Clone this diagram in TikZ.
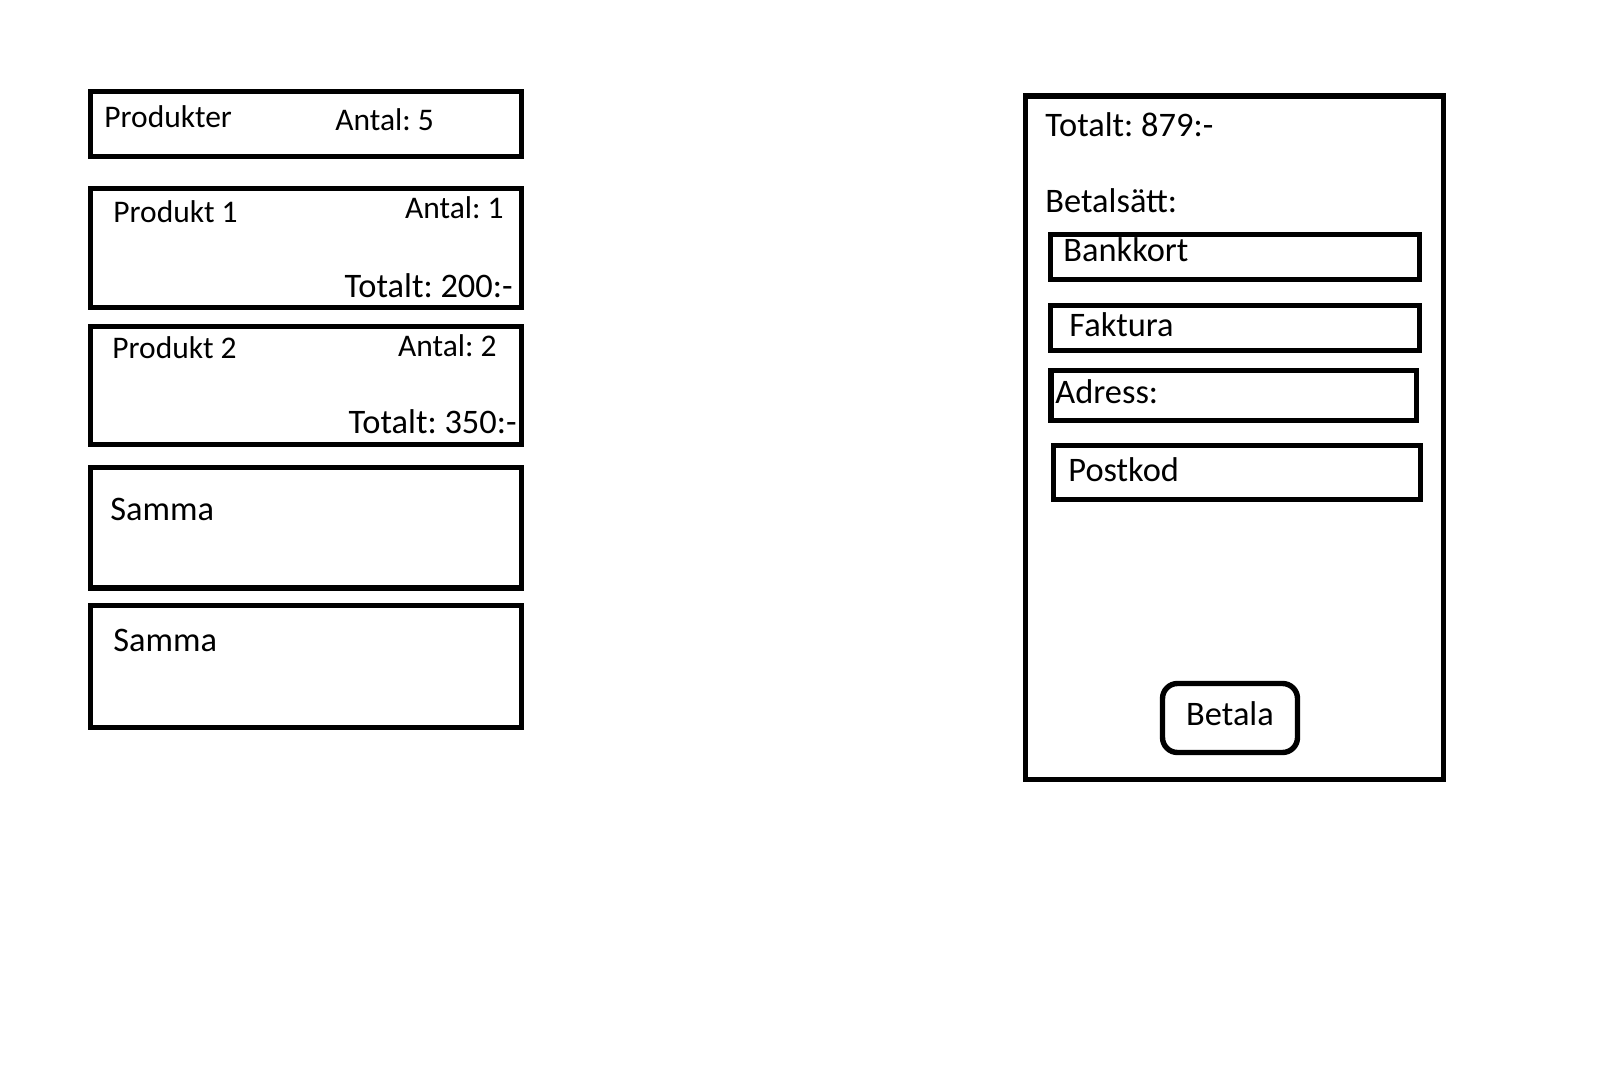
\documentclass[tikz,border=0pt]{standalone}
\usepackage{fontspec}
\setmainfont{Carlito}
\frenchspacing

\begin{document}
\begin{tikzpicture}[
  x=0.5pt, y=-0.5pt,
  box/.style={line width=2.7pt},
  small/.style={inner sep=0pt, font=\fontsize{15.75}{19}\selectfont},
  large/.style={inner sep=0pt, font=\fontsize{17.2}{21}\selectfont},
]
\useasboundingbox (0,0) rectangle (1611,1069);
% product list
\foreach \t/\b in {91.5/156.5, 188.5/307.5, 326.5/444.5, 467.5/588, 605.5/727.5}
  \draw[box] (90.5,\t) rectangle (521.5,\b);
\node[small, anchor=base west] (produkter) at (104,128) {Produkter};
\node[small, anchor=base west] (antal) at (335,131) {Antal: 5};
\node[small, anchor=base west] (prod1) at (113,223) {Produkt 1};
\node[small, anchor=base east] (antal1) at (504,219) {Antal: 1};
\node[large, anchor=base east] (tot1) at (513,298) {Totalt: 200:-};
\node[small, anchor=base west] (prod2) at (112,359) {Produkt 2};
\node[small, anchor=base east] (antal2) at (497,357) {Antal: 2};
\node[large, anchor=base east] (tot2) at (517,433) {Totalt: 350:-};
\node[large, anchor=base west] (samma1) at (110,520) {Samma};
\node[large, anchor=base west] (samma2) at (113,651) {Samma};
% payment panel
\draw[box] (1025.5,96) rectangle (1443.5,779.5);
\node[large, anchor=base west] (totalt) at (1045,137) {Totalt: 879:-};
\node[large, anchor=base west] (betalsatt) at (1045,213) {Betalsätt:};
\draw[box] (1050.5,234.5) rectangle (1419.5,279.5);
\node[large, anchor=base west] (bankkort) at (1063,262) {Bankkort};
\draw[box] (1050.5,305.5) rectangle (1419.5,350.5);
\node[large, anchor=base west] (faktura) at (1069,337) {Faktura};
\draw[box] (1051,370.5) rectangle (1416.5,420.5);
\node[large, anchor=base west] (adress) at (1055,404) {Adress:};
\draw[box] (1053.5,445.5) rectangle (1420.5,499.5);
\node[large, anchor=base west] (postkod) at (1068,481) {Postkod};
\draw[box, rounded corners=7.5pt] (1162.5,683.5) rectangle (1297.5,752.5);
\node[large, anchor=base] (betala) at (1230,725) {Betala};
\end{tikzpicture}
\end{document}
